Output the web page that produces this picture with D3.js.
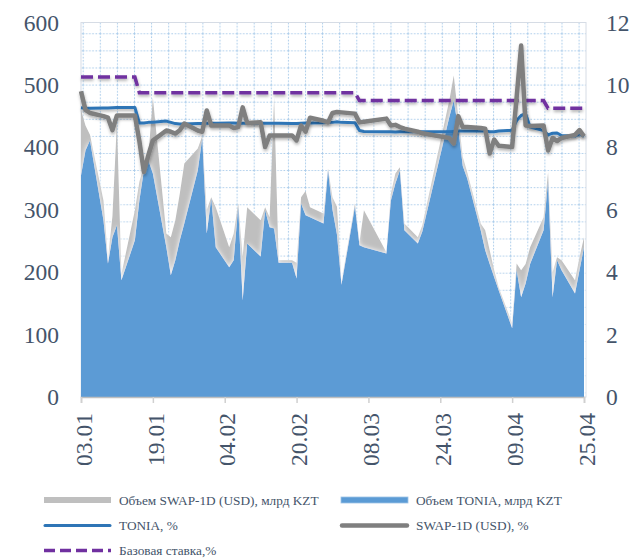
<!DOCTYPE html>
<html>
<head>
<meta charset="utf-8">
<script src="https://cdn.jsdelivr.net/npm/d3@7"></script>
<style>
  body { margin: 0; background: #fff; }
  svg text { font-family: "Liberation Serif", "Times New Roman", serif; fill: #44546a; }
</style>
</head>
<body>
<script>
// trading days of 2018 (dd.mm)
const year = 2018;
const days = [
  "03.01","04.01","05.01","08.01","09.01","10.01","11.01","12.01","15.01","16.01","17.01","18.01","19.01","22.01","23.01","24.01","25.01","26.01","29.01","30.01","31.01",
  "01.02","02.02","05.02","06.02","07.02","08.02","09.02","12.02","13.02","14.02","15.02","16.02","19.02","20.02","21.02","22.02","23.02","26.02","27.02","28.02",
  "01.03","02.03","05.03","06.03","07.03","12.03","13.03","14.03","15.03","16.03","19.03","20.03","26.03","27.03","28.03","29.03","30.03",
  "02.04","03.04","04.04","05.04","06.04","09.04","10.04","11.04","12.04","13.04","16.04","17.04","18.04","19.04","20.04","23.04","24.04","25.04"
];

// volumes, bn KZT
const toniaVolume = [
  355,395,411,283,214,256,275,187,251,315,363,379,358,240,195,219,251,278,363,414,262,
  318,240,208,219,304,155,246,225,299,272,270,215,215,190,310,291,288,278,363,300,
  260,180,305,243,240,230,315,342,363,267,246,265,448,475,430,370,350,
  267,235,213,192,171,110,203,160,182,213,267,345,160,219,203,166,203,240
];
const swapVolume = [
  105,40,9,32,8,34,165,10,48,30,7,6,122,22,61,64,75,96,35,4,38,
  2,64,32,43,6,70,58,58,5,16,210,4,4,25,10,39,16,16,3,20,
  45,5,5,5,59,2,11,16,5,11,10,10,27,40,20,15,10,
  11,32,22,11,5,8,11,43,31,27,21,15,40,5,16,21,21,16
];

// rates, %
const toniaRate = [
  9.27,9.25,9.25,9.26,9.26,9.27,9.28,9.28,9.28,8.78,8.78,8.80,8.80,8.84,8.80,8.76,8.75,8.75,8.76,8.76,8.77,
  8.77,8.77,8.78,8.78,8.77,8.77,8.77,8.77,8.77,8.77,8.77,8.77,8.76,8.76,8.77,8.78,8.78,8.79,8.80,8.80,
  8.82,8.80,8.79,8.54,8.51,8.50,8.50,8.49,8.50,8.50,8.50,8.50,8.50,8.51,8.52,8.52,8.52,
  8.52,8.52,8.50,8.50,8.52,8.55,8.86,9.02,9.08,8.65,8.54,8.40,8.45,8.46,8.38,8.36,8.44,8.35
];
const swapRate = [
  9.80,9.20,9.10,9.00,8.95,8.55,9.02,9.02,9.02,8.20,7.21,7.75,8.22,8.54,8.50,8.44,8.55,8.76,8.54,8.50,9.18,
  8.70,8.70,8.70,8.62,8.65,9.28,8.78,8.80,8.01,8.38,8.38,8.38,8.38,8.22,8.70,8.50,8.95,8.85,8.80,9.10,
  9.13,9.12,9.08,8.80,8.82,8.92,8.70,8.72,8.65,8.60,8.50,8.45,8.30,8.12,9.00,8.65,8.65,
  8.62,8.60,7.80,8.25,8.05,8.01,9.60,11.26,8.70,8.68,8.70,7.90,8.30,8.20,8.30,8.40,8.55,8.35
];
const baseRate = [
  10.25,10.25,10.25,10.25,10.25,10.25,10.25,10.25,10.25,9.75,9.75,9.75,9.75,9.75,9.75,9.75,9.75,9.75,9.75,9.75,9.75,
  9.75,9.75,9.75,9.75,9.75,9.75,9.75,9.75,9.75,9.75,9.75,9.75,9.75,9.75,9.75,9.75,9.75,9.75,9.75,9.75,
  9.75,9.75,9.75,9.5,9.5,9.5,9.5,9.5,9.5,9.5,9.5,9.5,9.5,9.5,9.5,9.5,9.5,
  9.5,9.5,9.5,9.5,9.5,9.5,9.5,9.5,9.5,9.5,9.5,9.25,9.25,9.25,9.25,9.25,9.25,9.25
];

const tickLabels = ["03.01","19.01","04.02","20.02","08.03","24.03","09.04","25.04"];
const leftTicks = [0, 100, 200, 300, 400, 500, 600];
const rightTicks = [0, 2, 4, 6, 8, 10, 12];
const legendLabels = [
  "Объем SWAP-1D (USD), млрд KZT", "Объем TONIA, млрд KZT",
  "TONIA, %", "SWAP-1D (USD), %",
  "Базовая ставка,%"
];

const W = 630, H = 558;
const plot = { left: 81, right: 586, top: 22.5, bottom: 397 };

const svg = d3.select('body').append('svg')
  .attr('width', W)
  .attr('height', H);

const parse = d3.utcParse('%d.%m.%Y');
const toDate = s => parse(s + '.' + year);

const rows = days.map((d, i) => ({
  date: toDate(d),
  tonia: toniaVolume[i],
  swap: swapVolume[i],
  tr: toniaRate[i],
  sr: swapRate[i],
  br: baseRate[i]
}));

const x = d3.scaleUtc()
  .domain([toDate(days[0]), toDate(days[days.length - 1])])
  .range([plot.left, 584]);
const yL = d3.scaleLinear().domain([0, 600]).range([plot.bottom, plot.top]);
const yR = d3.scaleLinear().domain([0, 12]).range([plot.bottom, plot.top]);

// defs: dotted grid pattern + soft shadow for the lines
const defs = svg.append('defs');
const pat = defs.append('pattern')
  .attr('id', 'dotgrid')
  .attr('patternUnits', 'userSpaceOnUse')
  .attr('x', 82.7).attr('y', 16.2)
  .attr('width', 17.1).attr('height', 17.1);
pat.append('line').attr('x1', 0.5).attr('y1', 0).attr('x2', 0.5).attr('y2', 17.1)
  .attr('stroke', '#a9cbea').attr('stroke-width', 1).attr('stroke-dasharray', '1.6,1.6');
pat.append('line').attr('x1', 0).attr('y1', 0.5).attr('x2', 17.1).attr('y2', 0.5)
  .attr('stroke', '#a9cbea').attr('stroke-width', 1).attr('stroke-dasharray', '1.6,1.6');

const shadow = defs.append('filter').attr('id', 'shadow')
  .attr('x', '-5%').attr('y', '-20%').attr('width', '110%').attr('height', '140%');
shadow.append('feDropShadow')
  .attr('dx', 0.5).attr('dy', 2).attr('stdDeviation', 1.5)
  .attr('flood-color', '#000').attr('flood-opacity', 0.3);

const glow = defs.append('filter').attr('id', 'glow')
  .attr('x', '-5%').attr('y', '-10%').attr('width', '110%').attr('height', '120%');
glow.append('feDropShadow')
  .attr('dx', 0).attr('dy', 0).attr('stdDeviation', 2.5)
  .attr('flood-color', '#fff').attr('flood-opacity', 1);

// plot area
svg.append('rect')
  .attr('x', plot.left).attr('y', plot.top)
  .attr('width', plot.right - plot.left).attr('height', plot.bottom - plot.top)
  .attr('fill', 'url(#dotgrid)')
  .attr('stroke', '#d6dce5').attr('stroke-width', 1);

// stacked volumes
const stacked = d3.stack().keys(['tonia', 'swap'])(rows);
const area = d3.area()
  .x(d => x(d.data.date))
  .y0(d => yL(d[0]))
  .y1(d => yL(d[1]));
const areaColors = { tonia: '#5b9bd5', swap: '#bfbfbf' };

svg.append('g')
  .selectAll('path')
  .data(stacked.slice().reverse())
  .join('path')
  .attr('d', area)
  .attr('fill', d => areaColors[d.key])
  .attr('filter', 'url(#glow)');

// rate lines
const line = key => d3.line()
  .x(d => x(d.date))
  .y(d => yR(d[key]));

svg.append('path')
  .datum(rows)
  .attr('d', line('br'))
  .attr('fill', 'none')
  .attr('stroke', '#7030a0')
  .attr('stroke-width', 3.5)
  .attr('stroke-dasharray', '12,5')
  .attr('filter', 'url(#shadow)');

svg.append('path')
  .datum(rows)
  .attr('d', line('tr'))
  .attr('fill', 'none')
  .attr('stroke', '#2e75b6')
  .attr('stroke-width', 3)
  .attr('stroke-linejoin', 'round')
  .attr('filter', 'url(#shadow)');

svg.append('path')
  .datum(rows)
  .attr('d', line('sr'))
  .attr('fill', 'none')
  .attr('stroke', '#7f7f7f')
  .attr('stroke-width', 4.5)
  .attr('stroke-linejoin', 'round')
  .attr('filter', 'url(#shadow)');

// axes
const xAxis = svg.append('g')
  .attr('transform', `translate(0,${plot.bottom})`)
  .call(d3.axisBottom(x)
    .tickValues(tickLabels.map(toDate))
    .tickSize(6)
    .tickFormat(d3.utcFormat('%d.%m')));
xAxis.select('.domain').attr('stroke', '#bfbfbf').attr('stroke-width', 1.5);
xAxis.selectAll('.tick line').attr('stroke', '#d0d0d0').attr('stroke-width', 1.5);
xAxis.selectAll('.tick text')
  .attr('font-size', 23.5)
  .attr('text-anchor', 'end')
  .attr('transform', 'rotate(-90)')
  .attr('x', -16)
  .attr('y', 2)
  .attr('dy', '0.35em');

const leftAxis = svg.append('g')
  .attr('transform', `translate(${plot.left},0)`)
  .call(d3.axisLeft(yL).tickValues(leftTicks).tickSize(0).tickPadding(22));
leftAxis.select('.domain').remove();
leftAxis.selectAll('text').attr('font-size', 23.5);

const rightAxis = svg.append('g')
  .attr('transform', `translate(${plot.right},0)`)
  .call(d3.axisRight(yR).tickValues(rightTicks).tickSize(0).tickPadding(20));
rightAxis.select('.domain').remove();
rightAxis.selectAll('text').attr('font-size', 23.5);

svg.selectAll('.tick text').attr('fill', '#44546a');

// legend
const legend = svg.append('g');
const colX = [44, 341];
const rowY = [500, 525.5, 550.5];
const swatchW = 67;

const item = (i, col, row) => {
  const g = legend.append('g').attr('transform', `translate(${colX[col]},${rowY[row]})`);
  g.append('text')
    .attr('x', swatchW + 8)
    .attr('dy', '0.35em')
    .attr('font-size', 13.3)
    .text(legendLabels[i]);
  return g;
};

item(0, 0, 0).append('rect')
  .attr('x', 0).attr('y', -3).attr('width', swatchW).attr('height', 6)
  .attr('fill', areaColors.swap);
item(1, 1, 0).append('rect')
  .attr('x', 0).attr('y', -3).attr('width', swatchW).attr('height', 6)
  .attr('fill', areaColors.tonia).attr('stroke', '#9dc3e6').attr('stroke-width', 0.8);
item(2, 0, 1).append('line')
  .attr('x1', 1).attr('x2', swatchW - 1)
  .attr('stroke', '#2e75b6').attr('stroke-width', 3).attr('stroke-linecap', 'round');
item(3, 1, 1).append('line')
  .attr('x1', 1).attr('x2', swatchW - 1)
  .attr('stroke', '#7f7f7f').attr('stroke-width', 4.5).attr('stroke-linecap', 'round');
item(4, 0, 2).append('line')
  .attr('x1', 0).attr('x2', swatchW)
  .attr('stroke', '#7030a0').attr('stroke-width', 3.5).attr('stroke-dasharray', '11,5');
</script>
</body>
</html>
